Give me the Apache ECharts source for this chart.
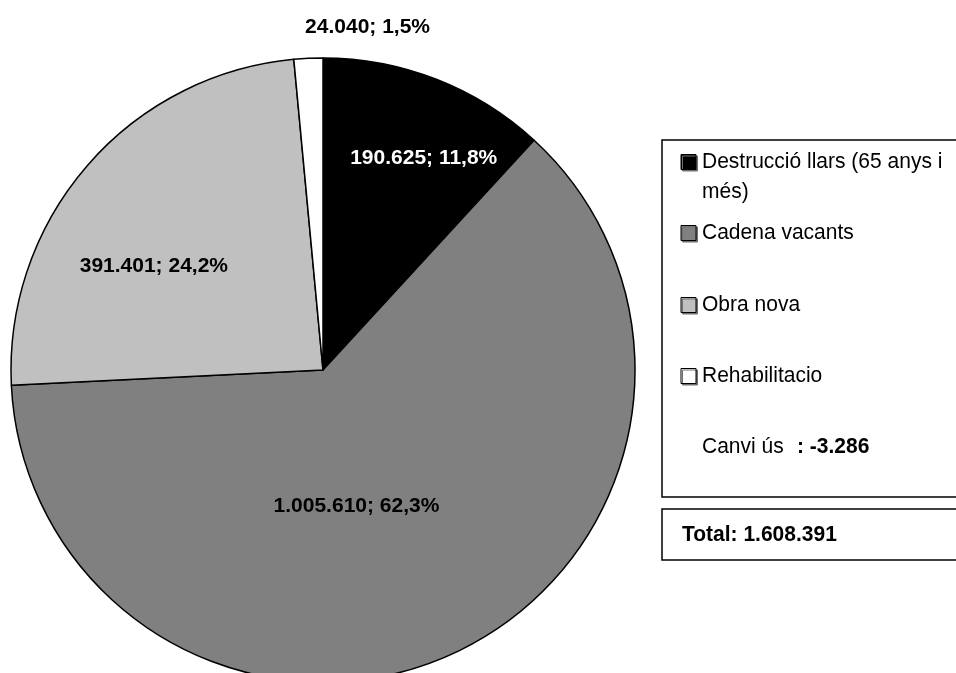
<!DOCTYPE html>
<html>
<head>
<meta charset="utf-8">
<script src="https://cdn.jsdelivr.net/npm/echarts@6/dist/echarts.min.js"></script>
<style>
  html, body { margin: 0; padding: 0; background: #ffffff; }
  #chart { width: 956px; height: 673px; }
</style>
</head>
<body>
<div id="chart"></div>
<script>
// Household formation by source
const categories = ['Destrucció llars (65 anys i més)', 'Cadena vacants', 'Obra nova', 'Rehabilitacio'];
const legendLines = [['Destrucció llars (65 anys i', 'més)'], ['Cadena vacants'], ['Obra nova'], ['Rehabilitacio']];
const values = [190625, 1005610, 391401, 24040];
const shares = [11.8, 62.3, 24.2, 1.5];
const canviUsLabel = 'Canvi ús';
const canviUs = -3286;
const total = 1608391;

const colors = ['#000000', '#808080', '#c0c0c0', '#ffffff'];
const labelColors = ['#ffffff', '#000000', '#000000', '#000000'];
const labelOffsets = [[43, -64], [-34, -8], [-49, 0], [52, -184]];

const FONT = '"Liberation Sans", Arial, sans-serif';

function fmtNum(n) {
  const s = Math.abs(n).toString().replace(/\B(?=(\d{3})+(?!\d))/g, '.');
  return (n < 0 ? '-' : '') + s;
}
function fmtPct(p) {
  return p.toFixed(1).replace('.', ',') + '%';
}

const chart = echarts.init(document.getElementById('chart'), null, { renderer: 'canvas' });

const pieData = categories.map((name, i) => ({
  name: name,
  value: values[i],
  itemStyle: { color: colors[i] },
  label: { color: labelColors[i], offset: labelOffsets[i] }
}));

// Legend panel drawn as graphic elements
const graphics = [];
const boxLeft = 662;
graphics.push({
  type: 'rect', shape: { x: boxLeft, y: 140, width: 320, height: 357 },
  style: { fill: '#ffffff', stroke: '#000000', lineWidth: 1.5 }, z: 10
});
graphics.push({
  type: 'rect', shape: { x: boxLeft, y: 509, width: 320, height: 51 },
  style: { fill: '#ffffff', stroke: '#000000', lineWidth: 1.5 }, z: 10
});
const rowY = [162, 233, 305, 376];
const textStyle = (t, bold) => ({
  text: t, font: (bold ? 'bold ' : '') + '21px ' + FONT, fill: '#000000',
  verticalAlign: 'middle', align: 'left'
});
legendLines.forEach((lines, i) => {
  graphics.push({
    type: 'rect', shape: { x: 681, y: rowY[i] - 7.5, width: 15, height: 15 },
    style: {
      fill: colors[i], stroke: '#000000', lineWidth: 1,
      shadowColor: '#707070', shadowOffsetX: 1.5, shadowOffsetY: 1.5, shadowBlur: 0
    }, z: 11
  });
  lines.forEach((t, j) => {
    graphics.push({ type: 'text', x: 702, y: rowY[i] + j * 30, scaleY: 1.08, z: 11, style: textStyle(t, false) });
  });
});
graphics.push({ type: 'text', x: 702, y: 447, scaleY: 1.08, z: 11, style: textStyle(canviUsLabel, false) });
graphics.push({ type: 'text', x: 797, y: 447, scaleY: 1.08, z: 11, style: textStyle(': ' + fmtNum(canviUs), true) });
graphics.push({ type: 'text', x: 682, y: 535, scaleY: 1.08, z: 11, style: textStyle('Total: ' + fmtNum(total), true) });

chart.setOption({
  backgroundColor: '#ffffff',
  animation: false,
  graphic: graphics,
  series: [{
    type: 'pie',
    center: [323, 370],
    radius: 312,
    startAngle: 90,
    clockwise: true,
    avoidLabelOverlap: false,
    itemStyle: { borderColor: '#000000', borderWidth: 1.5 },
    label: {
      show: true,
      position: 'inside',
      fontFamily: FONT,
      fontWeight: 'bold',
      fontSize: 21,
      formatter: (p) => fmtNum(p.value) + '; ' + fmtPct(shares[p.dataIndex])
    },
    labelLine: { show: false },
    emphasis: { disabled: true },
    data: pieData
  }]
});
</script>
</body>
</html>
